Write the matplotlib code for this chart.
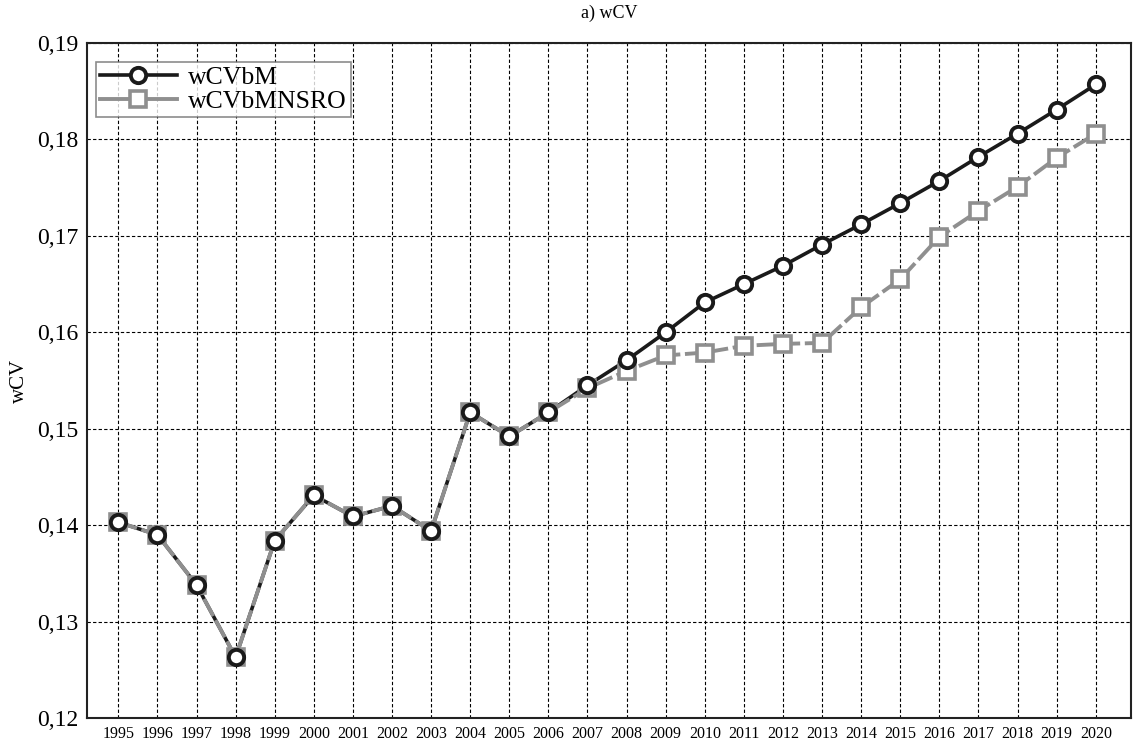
import matplotlib
matplotlib.use("Agg")
import matplotlib.pyplot as plt
from matplotlib.ticker import FuncFormatter, MultipleLocator

years = list(range(1995, 2021))
wcvbm = [0.1403, 0.1390, 0.1338, 0.1263, 0.1384, 0.1431, 0.1409, 0.1420, 0.1394,
         0.1517, 0.1492, 0.1517, 0.1545, 0.1571, 0.1600, 0.1631, 0.1650, 0.1669,
         0.1691, 0.1712, 0.1734, 0.1757, 0.1782, 0.1806, 0.1831, 0.1857]
wcvbmnsro = [0.1403, 0.1390, 0.1338, 0.1263, 0.1384, 0.1431, 0.1409, 0.1420, 0.1394,
             0.1517, 0.1492, 0.1517, 0.1542, 0.1560, 0.1576, 0.1579, 0.1586, 0.1588,
             0.1589, 0.1626, 0.1655, 0.1699, 0.1726, 0.1751, 0.1781, 0.1806]

plt.rcParams['font.family'] = ['Liberation Serif', 'DejaVu Serif']

fig = plt.figure(figsize=(11.38, 7.47), dpi=100)
ax = fig.add_axes([0.0765, 0.0388, 0.9173, 0.9036])

black = '#1a1a1a'
gray = '#8f8f8f'

ax.plot(years, wcvbm, color=black, lw=2.6, zorder=3)
ax.plot(years, wcvbmnsro, color=gray, lw=2.8, ls=(0, (5, 1.2)), zorder=4,
        marker='s', ms=11, mfc='white', mec=gray, mew=2.6)
ax.plot(years, wcvbm, color=black, lw=0, zorder=5,
        marker='o', ms=11, mfc='white', mec=black, mew=2.8)

# legend proxies
h1, = ax.plot([], [], color=black, lw=2.6, marker='o', ms=11, mfc='white', mec=black, mew=2.8, label='wCVbM')
h2, = ax.plot([], [], color=gray, lw=2.8, marker='s', ms=11, mfc='white', mec=gray, mew=2.6, label='wCVbMNSRO')
leg = ax.legend(handles=[h1, h2], loc='upper left', bbox_to_anchor=(0.0085, 0.972),
                fontsize=18.5, frameon=True, fancybox=False, borderpad=0.15,
                handlelength=3.0, handletextpad=0.45, labelspacing=0.05,
                borderaxespad=0.0)
leg.get_frame().set_edgecolor('#707070')
leg.get_frame().set_linewidth(1.2)

ax.set_xlim(1994.2, 2020.9)
ax.set_ylim(0.12, 0.19)
ax.set_xticks(years)
ax.set_xticklabels([str(y) for y in years], fontsize=11.5)
ax.yaxis.set_major_locator(MultipleLocator(0.01))
ax.yaxis.set_major_formatter(FuncFormatter(lambda v, p: f"{v:.2f}".replace('.', ',')))
ax.tick_params(axis='both', length=0, pad=6)
ax.tick_params(axis='y', labelsize=17)
ax.grid(True, color='black', ls=(0, (3, 2)), lw=0.8)
for s in ax.spines.values():
    s.set_linewidth(1.5)
    s.set_color('#222222')

ax.set_ylabel('wCV', fontsize=15, labelpad=6)
ax.set_title('a) wCV', fontsize=13, pad=18)

fig.savefig('out.png', dpi=100)
